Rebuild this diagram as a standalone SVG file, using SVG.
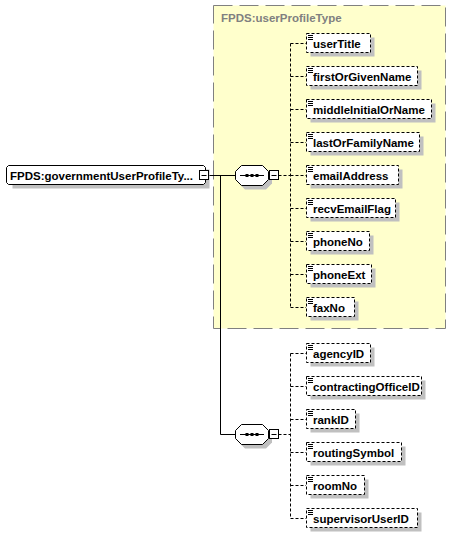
<svg xmlns="http://www.w3.org/2000/svg" width="452" height="533" viewBox="0 0 452 533">
<defs>
<style>
text{font-family:"Liberation Sans",Arial,sans-serif;font-weight:bold;font-size:11.5px;fill:#000}
.title{fill:#808080}
.shadow{fill:#c0c0c0;stroke:none}
.el{fill:#fff;stroke:#000;stroke-width:1;stroke-dasharray:3,2}
.solid{fill:none;stroke:#000;stroke-width:1}
.dash{fill:none;stroke:#000;stroke-width:1;stroke-dasharray:3,2}
.btn{fill:#fff;stroke:#000;stroke-width:1}
.ico{stroke:#000;stroke-width:1}
</style>
<g id="icon"><path class="ico" d="M308 35.5h5M308 37.5h5M308 39.5h5"/></g>
</defs>
<rect x="213.5" y="5.5" width="232" height="323" fill="#ffffcc" stroke="#808080" stroke-dasharray="19,7"/>
<text class="title" x="221" y="22">FPDS:userProfileType</text>
<g id="connectors">
<path class="solid" d="M208.5 175.5H235.5M220.5 175.5V434.5H235.5"/>
<path class="dash" d="M278.5 175.5H290.5M290.5 43.5V307.5M290.5 43.5H306M290.5 76.5H306M290.5 109.5H306M290.5 142.5H306M290.5 175.5H306M290.5 208.5H306M290.5 241.5H306M290.5 274.5H306M290.5 307.5H306"/>
<path class="dash" d="M278.5 434.5H290.5M290.5 353.5V518.5M290.5 353.5H306M290.5 386.5H306M290.5 419.5H306M290.5 452.5H306M290.5 485.5H306M290.5 518.5H306"/>
</g>
<g id="root">
<path class="shadow" d="M12.5 169.5h197v19h-197z"/>
<path d="M8.5 165.5H203.5L205.5 167.5V182.5L203.5 184.5H8.5L6.5 182.5V167.5Z" fill="#fff" stroke="#000"/>
<text x="10" y="179.5">FPDS:governmentUserProfileTy...</text>
<rect class="btn" x="199.5" y="170.5" width="9" height="9"/>
<path class="ico" d="M201.5 175.5h5"/>
</g>
<g id="seq1">
<path class="shadow" d="M245 169.5H266L272 175.5V183.5L266 189.5H245L239 183.5V175.5Z"/>
<path d="M241.5 165.5H262.5L268.5 171.5V179.5L262.5 185.5H241.5L235.5 179.5V171.5Z" fill="#fff" stroke="#000"/>
<path class="ico" d="M240 175.5H264"/>
<rect x="245.5" y="174" width="3" height="3"/><rect x="250.5" y="174" width="3" height="3"/><rect x="255.5" y="174" width="3" height="3"/>
<rect class="btn" x="269.5" y="170.5" width="9" height="9"/>
<path class="ico" d="M271.5 175.5h5"/>
</g>
<g id="seq2">
<path class="shadow" d="M245 428.5H266L272 434.5V442.5L266 448.5H245L239 442.5V434.5Z"/>
<path d="M241.5 424.5H262.5L268.5 430.5V438.5L262.5 444.5H241.5L235.5 438.5V430.5Z" fill="#fff" stroke="#000"/>
<path class="ico" d="M240 434.5H264"/>
<rect x="245.5" y="433" width="3" height="3"/><rect x="250.5" y="433" width="3" height="3"/><rect x="255.5" y="433" width="3" height="3"/>
<rect class="btn" x="269.5" y="429.5" width="9" height="9"/>
<path class="ico" d="M271.5 434.5h5"/>
</g>
<g id="userTitle"><rect class="shadow" x="310.5" y="37.5" width="64" height="19"/><rect class="el" x="306.5" y="33.5" width="64" height="19"/><use href="#icon"/><text x="313" y="47.5">userTitle</text></g>
<g id="firstOrGivenName" transform="translate(0,33)"><rect class="shadow" x="310.5" y="37.5" width="111" height="19"/><rect class="el" x="306.5" y="33.5" width="111" height="19"/><use href="#icon"/><text x="313" y="47.5">firstOrGivenName</text></g>
<g id="middleInitialOrName" transform="translate(0,66)"><rect class="shadow" x="310.5" y="37.5" width="125" height="19"/><rect class="el" x="306.5" y="33.5" width="125" height="19"/><use href="#icon"/><text x="313" y="47.5">middleInitialOrName</text></g>
<g id="lastOrFamilyName" transform="translate(0,99)"><rect class="shadow" x="310.5" y="37.5" width="113" height="19"/><rect class="el" x="306.5" y="33.5" width="113" height="19"/><use href="#icon"/><text x="313" y="47.5">lastOrFamilyName</text></g>
<g id="emailAddress" transform="translate(0,132)"><rect class="shadow" x="310.5" y="37.5" width="92" height="19"/><rect class="el" x="306.5" y="33.5" width="92" height="19"/><use href="#icon"/><text x="313" y="47.5">emailAddress</text></g>
<g id="recvEmailFlag" transform="translate(0,165)"><rect class="shadow" x="310.5" y="37.5" width="89" height="19"/><rect class="el" x="306.5" y="33.5" width="89" height="19"/><use href="#icon"/><text x="313" y="47.5">recvEmailFlag</text></g>
<g id="phoneNo" transform="translate(0,198)"><rect class="shadow" x="310.5" y="37.5" width="63" height="19"/><rect class="el" x="306.5" y="33.5" width="63" height="19"/><use href="#icon"/><text x="313" y="47.5">phoneNo</text></g>
<g id="phoneExt" transform="translate(0,231)"><rect class="shadow" x="310.5" y="37.5" width="65" height="19"/><rect class="el" x="306.5" y="33.5" width="65" height="19"/><use href="#icon"/><text x="313" y="47.5">phoneExt</text></g>
<g id="faxNo" transform="translate(0,264)"><rect class="shadow" x="310.5" y="37.5" width="48" height="19"/><rect class="el" x="306.5" y="33.5" width="48" height="19"/><use href="#icon"/><text x="313" y="47.5">faxNo</text></g>
<g id="agencyID" transform="translate(0,310)"><rect class="shadow" x="310.5" y="37.5" width="64" height="19"/><rect class="el" x="306.5" y="33.5" width="64" height="19"/><use href="#icon"/><text x="313" y="47.5">agencyID</text></g>
<g id="contractingOfficeID" transform="translate(0,343)"><rect class="shadow" x="310.5" y="37.5" width="115" height="19"/><rect class="el" x="306.5" y="33.5" width="115" height="19"/><use href="#icon"/><text x="313" y="47.5">contractingOfficeID</text></g>
<g id="rankID" transform="translate(0,376)"><rect class="shadow" x="310.5" y="37.5" width="49" height="19"/><rect class="el" x="306.5" y="33.5" width="49" height="19"/><use href="#icon"/><text x="313" y="47.5">rankID</text></g>
<g id="routingSymbol" transform="translate(0,409)"><rect class="shadow" x="310.5" y="37.5" width="95" height="19"/><rect class="el" x="306.5" y="33.5" width="95" height="19"/><use href="#icon"/><text x="313" y="47.5">routingSymbol</text></g>
<g id="roomNo" transform="translate(0,442)"><rect class="shadow" x="310.5" y="37.5" width="58" height="19"/><rect class="el" x="306.5" y="33.5" width="58" height="19"/><use href="#icon"/><text x="313" y="47.5">roomNo</text></g>
<g id="supervisorUserID" transform="translate(0,475)"><rect class="shadow" x="310.5" y="37.5" width="111" height="19"/><rect class="el" x="306.5" y="33.5" width="111" height="19"/><use href="#icon"/><text x="313" y="47.5">supervisorUserID</text></g>
</svg>
